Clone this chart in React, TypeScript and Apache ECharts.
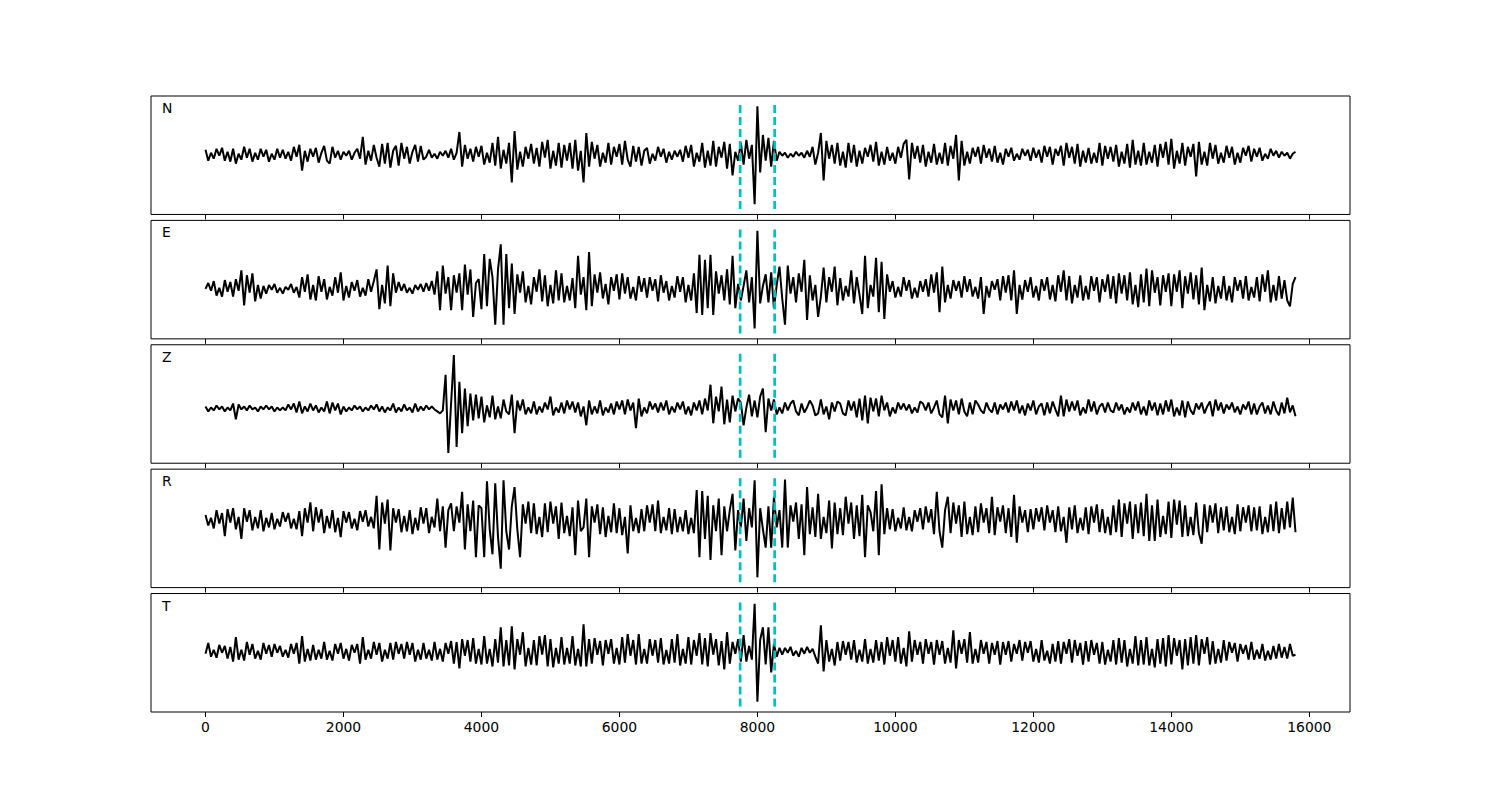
import React, { useEffect, useRef } from "react";
import * as echarts from "echarts";

// sample spacing of the traces (samples)
const STEP = 40;
const TICKS = [0, 2000, 4000, 6000, 8000, 10000, 12000, 14000, 16000];
const PICKS = [7750, 8250];
const LABELS = ["N", "E", "Z", "R", "T"];
const X_MIN = -790;
const X_MAX = 16590;

const TRACE_N = [
  5, -6, 2, -4, 6, -1, 7, -6, 3, -7,
  6, -9, 1, -5, 8, -3, 6, -7, 2, -5,
  6, -2, 5, -7, 1, -5, 6, -3, 5, -4,
  3, -6, 8, -2, 10, -16, 4, -7, 6, -2,
  7, -8, 2, 9, -6, -9, 8, -3, 4, -5,
  3, -1, 4, -5, 2, 6, -4, 18, -10, 4,
  -6, 10, -3, -12, 11, -9, 12, -13, 4, 9,
  -11, 12, -4, 8, -9, 3, 10, -7, 9, -5,
  -2, 5, -3, 1, -4, 3, -1, 4, -3, 6,
  -5, 2, 23, -12, 10, -4, 6, -7, 8, -2,
  9, -10, 2, -8, 12, -11, 18, -14, 5, -9,
  12, -28, 24, -15, 3, -12, 8, -4, 11, -9,
  7, -12, 13, -3, 15, -14, 4, -11, 12, -13,
  10, -6, 12, -14, 15, -16, 4, -28, 22, -12,
  13, -4, 10, -12, 2, -8, 12, -10, 8, -2,
  11, -10, 14, -5, -12, 9, -7, 8, -11, 4,
  7, -9, 1, -6, 8, -2, 6, -8, 3, -5,
  4, -2, 5, -7, 9, -3, 10, -12, 2, -7,
  12, -13, 4, -11, 14, -12, 8, -3, 13, -14,
  11, -21, 3, -6, 12, -10, 15, -4, 10, -50,
  49, -18, 20, -6, 17, -12, 14, -6, 3, -1,
  2, -3, 1, -2, 3, -1, 2, -3, 4, -2,
  8, -10, 2, 22, -26, 14, -4, 10, -9, 12,
  -11, 3, -13, 12, -8, 10, -12, 4, -9, 7,
  -2, 10, -7, 13, -11, 3, -10, 8, -6, 2,
  -9, 8, -3, 11, 15, -25, 12, -4, 9, -8,
  10, -12, 3, -8, 11, -10, 2, -9, 12, -11,
  9, -4, 20, -26, 14, -11, 3, -9, 7, -2,
  8, -9, 10, -3, 6, -7, 9, -8, 2, -10,
  6, -2, 7, -6, 1, -5, 6, -1, 5, -6,
  7, -3, 5, -8, 9, -2, 8, -10, 6, -1,
  9, -11, 12, -3, 8, -9, 11, -12, 4, -8,
  7, -9, 2, -8, 12, -11, 9, -4, 8, -7,
  10, -12, 3, -9, 11, -13, 15, -10, 4, -11,
  12, -10, 3, -8, 10, -12, 11, -3, 13, -10,
  16, -14, 4, -9, 12, -11, 8, -2, 11, -22,
  13, -10, 3, -11, 12, -4, 10, -9, 2, -8,
  9, -3, 8, -10, 2, -8, 7, -1, 9, -7,
  6, -2, 7, -6, 1, -4, 6, -1, 4, -3,
  3, -1, 2, -4, 1, 3,
];

const TRACE_E = [
  0, 6, -2, 8, -7, 1, -8, 9, -3, 7,
  -8, 10, -2, 19, -17, 14, -4, 16, -13, 4,
  -10, 3, -5, 4, -1, 5, -4, 1, -5, 2,
  -1, 5, -4, 2, -9, 12, -3, 15, -11, 4,
  -12, 13, -3, 10, -11, 2, -7, 12, -4, 17,
  -12, 3, -9, 7, -2, 9, -8, 1, -7, 10,
  -3, 8, 20, -21, 4, -15, 24, -18, 16, -4,
  7, -2, 5, -4, 1, -5, 4, -1, 5, -3,
  6, -2, 8, -6, 18, -22, 24, -5, 12, -22,
  14, -4, 16, -22, 25, -6, 20, -29, 6, 10,
  -21, 36, -18, 31, 12, -37, 20, 46, -37, 36,
  -20, 26, -26, 15, -4, 18, -14, 3, -16, 12,
  -3, 20, -13, 14, -18, 4, -15, 19, -12, 16,
  -14, 3, -12, 11, -20, 34, -6, 12, -22, 38,
  -18, 15, -4, 17, -10, 5, -16, 12, -2, 15,
  -11, 16, -5, 12, -10, 2, -12, 13, -3, 11,
  -9, 12, -2, 10, -13, 14, -4, 8, -12, 3,
  -9, 13, -3, 12, -14, 4, -12, 16, -25, 35,
  -27, 30, -20, 35, -27, 18, -5, 14, -12, 20,
  -16, 34, -20, 5, -12, 3, 19, -14, 12, -41,
  60, -15, 3, 15, -14, 17, -20, 4, 23, -10,
  -37, 24, -5, 12, -14, 16, -3, 30, -32, 14,
  -12, 4, -29, -8, 22, -14, 12, -3, 23, -17,
  11, -12, 3, -8, 19, -15, 12, -6, -26, 34,
  -20, 4, -8, 32, -24, 28, -31, 15, -3, 8,
  -9, 2, -8, 12, -2, 9, -10, 1, -9, 8,
  -3, 10, -8, 15, -4, 17, -24, 23, -14, 4,
  -10, 9, -2, 8, -9, 13, -3, 10, -8, 2,
  -10, 12, -26, 3, -9, 8, -1, 10, -12, 13,
  -4, 14, -12, 19, -26, 4, -11, 9, -3, 12,
  -9, 3, -12, 10, -2, 12, -11, 4, -13, 14,
  -3, 19, -12, 13, -15, 4, -9, 14, -12, 3,
  -11, 13, -2, 12, -14, 10, -3, 15, -10, 13,
  -15, 16, -5, 14, -12, 17, -16, 4, -19, 15,
  -14, 21, -18, 19, -4, 12, -17, 14, -3, 16,
  -18, 15, -3, 19, -20, 13, -5, 17, -11, 14,
  -16, 22, -22, 4, -13, 12, -15, 3, -10, 13,
  -12, 3, -14, 12, -2, 9, -10, 13, -12, 2,
  -9, 12, -13, 15, -3, 19, -14, 4, -12, 13,
  -10, 9, -12, -18, 5, 12,
];

const TRACE_Z = [
  2, -3, 1, -2, 3, -1, 2, -3, 1, -2,
  5, -11, 4, -1, 2, -2, 3, -1, 1, -3,
  2, -1, 3, -1, 2, -3, 1, -2, 1, -2,
  4, -1, 5, -4, 7, -5, 2, -3, 5, -2,
  3, -4, 1, -3, 7, -5, 6, -2, 5, -6,
  2, -3, 1, -2, 3, -1, 2, -3, 1, -2,
  3, -1, 4, -3, 2, -4, 1, -2, 5, -4,
  1, -3, 4, -2, 1, -4, 5, -3, 2, -2,
  3, -1, 2, -1, -3, -5, -2, 34, -45, 5,
  54, -39, 27, -25, 20, -18, 15, -12, 14, -10,
  12, -14, 3, -9, 13, -11, 2, -10, 9, -3,
  -6, 14, -25, 8, -2, 9, -6, 1, -5, 7,
  -6, 2, -4, 6, -1, 12, -7, 1, -4, 6,
  -5, 8, -1, 7, -4, 6, -8, 2, -17, 8,
  -6, 2, -5, 8, -7, 1, -4, 5, -6, 7,
  -1, 8, -6, 9, -2, 6, -20, 10, -8, 1,
  -5, 7, -1, 5, -4, 6, -2, 8, -6, 2,
  -4, 6, -1, 7, -6, 2, -7, 6, -2, 8,
  -6, 10, -2, 24, -15, 12, -3, 22, -16, 9,
  -14, 13, -3, 10, 6, -17, 1, 14, -8, 8,
  -9, 12, 20, -24, 10, -2, 9, -6, 1, -5,
  6, -2, 5, 8, -3, -7, 5, -4, 1, 8,
  3, -7, -5, 9, -6, 2, -11, 6, -3, 7,
  5, -5, -7, 8, -2, 7, -9, 10, -12, 13,
  -15, 11, -3, 10, -8, 13, -2, 6, -8, 1,
  -5, 6, -1, 5, -2, 4, -5, 1, -4, 7,
  5, -2, 6, -5, 1, 8, -6, -9, 13, -15,
  9, -2, 8, -6, 10, -3, -8, 6, -6, 8,
  4, -2, -5, 6, -1, -4, 6, -6, 4, -1,
  6, -4, 7, -2, 8, -5, 3, -7, 5, -2,
  8, -6, 2, 5, -7, 6, -5, 7, -1, -8,
  13, -8, 9, -3, 7, -2, 8, -7, 1, -5,
  9, -3, 7, -6, 2, 5, -4, 6, -2, -4,
  6, -2, 4, -6, 1, -4, 6, -2, 7, -6,
  2, -7, 8, -2, 6, -7, 5, -6, 8, -3,
  9, -8, 1, -7, 8, -9, 7, -2, -6, 5,
  -1, 6, -5, 2, 7, -8, 9, -2, 6, -5,
  4, -1, 6, -4, 2, -6, 4, -1, 7, -6,
  5, -6, 2, 6, -5, 3, -6, 7, -2, -7,
  6, -5, 11, -4, 3, -8,
];

const TRACE_R = [
  5, -6, 2, -9, 10, -4, 7, -17, 11, -3,
  12, -10, 3, -20, 12, -2, 10, -11, 3, -9,
  10, -12, 2, -8, 7, -10, 1, -7, 8, -2,
  7, -9, 1, -10, 9, -17, 12, -3, 18, -12,
  13, -3, 11, -14, 4, -9, 10, -13, 2, -18,
  9, -3, 8, -9, 1, -11, 9, -2, 10, -7,
  3, -9, 25, -31, 18, -4, 21, -32, 12, -3,
  11, -13, 4, -12, 10, -15, 2, -11, 13, -4,
  12, -14, 3, -8, 22, -12, 14, -29, 10, 17,
  -12, 14, -3, 29, -31, 16, -12, 20, -39, 15,
  12, -39, 40, -10, -36, 38, -18, -51, 41, -12,
  -31, 14, 34, -10, -39, 16, -4, 19, -14, 17,
  -15, 3, -18, 17, -13, 19, -4, 14, -20, 18,
  -14, 4, -17, 13, -37, 20, -12, -8, 22, -39,
  14, -3, 16, -15, 13, -18, 4, -13, 17, -14,
  12, -16, 3, -35, 15, -12, 2, -14, 11, -12,
  15, -3, 16, -12, 20, -14, 3, -11, 12, -15,
  11, -13, 3, -12, 10, -15, 2, -14, 31, -39,
  30, -20, 25, -42, 15, -12, 22, -37, 14, -12,
  10, 27, -32, 10, -8, 22, -22, 12, -8, 41,
  -60, 12, -10, -29, 14, -29, 24, -8, 10, -29,
  42, -29, 15, -2, 18, -20, 16, -37, 34, -15,
  13, -18, 27, -20, 3, -14, 20, -30, 18, -15,
  12, -16, 24, -4, 18, -20, 15, -17, 26, -39,
  15, 8, -12, 30, -37, 37, -15, 12, -10, 11,
  -12, 2, -9, 13, -11, 3, -12, 10, -2, 12,
  -10, 14, -3, 11, -15, 29, -12, -29, 10, 24,
  -14, 18, -4, 15, -18, 19, -15, 3, -16, 14,
  -13, 17, -3, 12, -14, 24, -16, 13, -2, 15,
  -14, 12, -18, 26, -24, 14, -3, 10, -13, 11,
  -10, 12, -2, 13, -11, 15, -3, 10, -13, 14,
  -12, 3, -24, 13, -10, 15, -14, 2, -11, 13,
  -15, 14, -3, 16, -13, 11, -14, 3, -16, 15,
  -13, 21, -18, 17, -4, 19, -20, 16, -14, 18,
  -17, 27, -22, 15, -22, 21, -18, 4, -15, 19,
  -19, 21, -5, 20, -18, 15, -17, 3, -16, 18,
  -14, -25, 16, -13, 15, -3, 17, -14, 13, -11,
  14, -13, 3, -15, 16, -12, 13, -3, 15, -12,
  13, -11, 14, -15, 3, -13, 16, -12, 19, -14,
  12, -10, 19, -8, 23, -13,
];

const TRACE_T = [
  -2, 9, -5, 2, -6, 7, -1, 6, -7, 5,
  -10, 15, -8, 2, -9, 10, -3, 8, -7, 1,
  -8, 9, -2, 7, -5, 8, -1, 6, -5, 2,
  -6, 8, -2, 9, -12, 16, -10, 3, -9, 7,
  -8, 2, -7, 10, -8, 1, -9, 8, -2, 9,
  -7, 3, -9, 7, -1, 8, -12, 15, -8, 2,
  -7, 10, -3, 9, -10, 2, -7, 9, -8, 10,
  -2, 8, -7, 10, -3, 9, -10, 2, -8, 9,
  -7, 2, -9, 10, -8, 3, -10, 9, -2, 11,
  -12, 10, -17, 13, -4, 12, -10, 14, -12, 3,
  -13, 16, -12, 3, -15, 13, -11, 25, -15, 12,
  -14, 26, -18, 13, -3, 20, -15, 4, -13, 12,
  -14, 16, -3, 17, -15, 13, -16, 4, -12, 15,
  -13, 4, -12, 16, -14, 3, -15, 28, -15, 13,
  -12, 14, -3, 11, -14, 12, -2, 13, -12, 4,
  -13, 15, -11, 18, -4, 12, -13, 18, -12, 3,
  -12, 13, -4, 12, -11, 14, -13, 2, -12, 13,
  -11, 18, -14, 3, -12, 15, -13, 12, -4, 19,
  -13, 14, -15, 19, -3, 13, -14, 11, -18, 20,
  -12, 10, -2, 13, -10, 17, -10, 6, -8, 49,
  -51, 12, 25, -13, 25, -21, 8, -5, 4, -3,
  4, -1, 5, -4, 1, -5, 4, -2, 5, -1,
  3, -5, -12, 27, -20, 12, -10, 3, -14, 10,
  -9, 11, -3, 10, -8, 12, -11, 2, -10, 13,
  -12, 3, -11, 12, -9, 10, -13, 15, -4, 12,
  -10, 15, -12, 4, -15, 21, -10, 12, -3, 10,
  -12, 13, -2, 10, -13, 12, -3, 11, -12, 4,
  -11, 22, -17, 12, -2, 13, -11, 20, -12, 3,
  -11, 12, -2, 10, -12, 9, -3, 11, -13, 10,
  -3, 11, -10, 8, -2, 12, -9, 10, -1, 11,
  -10, 3, -11, 12, -9, 1, -12, 8, -10, 11,
  -12, 10, -2, 13, -11, 12, -4, 9, -13, 11,
  -10, 12, -3, 9, -12, 10, -13, 2, -10, 12,
  -13, 14, -11, 12, -15, 3, -12, 16, -14, 12,
  -13, 15, -14, 3, -16, 13, -12, 14, -15, 17,
  -13, 14, -4, 12, -18, 13, -14, 15, -12, 17,
  -14, 13, -2, 15, -13, 11, -12, 3, -11, 12,
  -9, 10, -1, 9, -10, 8, -2, 7, -8, 10,
  -8, 2, -7, 8, -9, 1, -8, 6, -7, 8,
  -6, 5, -7, 8, -4, -3,
];

const TRACES = [TRACE_N, TRACE_E, TRACE_Z, TRACE_R, TRACE_T];

const FONT = "DejaVu Sans";
const GRID_LEFT = 151;
const GRID_WIDTH = 1199;
const GRID_TOP0 = 96;
const GRID_PITCH = 124.385;
const GRID_HEIGHT = 118.46;

export default function App() {
  const ref = useRef<HTMLDivElement>(null);

  useEffect(() => {
    if (!ref.current) return;
    const chart = echarts.init(ref.current, null, { renderer: "svg" });

    const grids: any[] = [];
    const xAxes: any[] = [];
    const yAxes: any[] = [];
    const series: any[] = [];
    const graphics: any[] = [];

    TRACES.forEach((arr, i) => {
      const top = GRID_TOP0 + i * GRID_PITCH;
      const mn = Math.min(...arr);
      const mx = Math.max(...arr);
      const r = mx - mn;
      const lo = mn - 0.05 * r;
      const hi = mx + 0.05 * r;
      const pad = 0.05 * (hi - lo);

      grids.push({
        left: GRID_LEFT,
        top,
        width: GRID_WIDTH,
        height: GRID_HEIGHT,
        show: true,
        borderColor: "#000",
        borderWidth: 1,
        backgroundColor: "transparent",
      });

      xAxes.push({
        gridIndex: i,
        type: "value",
        position: "bottom",
        min: X_MIN,
        max: X_MAX,
        axisLine: { show: false, onZero: false },
        axisTick: {
          show: true,
          inside: false,
          length: 5,
          lineStyle: { color: "#000", width: 1 },
          customValues: TICKS,
        },
        axisLabel: {
          show: i === TRACES.length - 1,
          customValues: TICKS,
          margin: 8,
          fontSize: 13.9,
          fontFamily: FONT,
          color: "#000",
          formatter: (v: number) => String(v),
        },
        splitLine: { show: false },
      });

      yAxes.push({
        gridIndex: i,
        type: "value",
        min: lo - pad,
        max: hi + pad,
        show: false,
        splitLine: { show: false },
      });

      series.push({
        type: "line",
        xAxisIndex: i,
        yAxisIndex: i,
        data: arr.map((v, k) => [k * STEP, v]),
        symbol: "none",
        showSymbol: false,
        silent: true,
        lineStyle: { color: "#000", width: 2 },
        z: 2,
      });

      PICKS.forEach((p) => {
        series.push({
          type: "line",
          xAxisIndex: i,
          yAxisIndex: i,
          data: [
            [p, lo],
            [p, hi],
          ],
          symbol: "none",
          showSymbol: false,
          silent: true,
          lineStyle: { color: "#00bfbf", width: 2.7, type: [8, 4] },
          z: 3,
        });
      });

      graphics.push({
        type: "text",
        left: 162,
        top: top + 5,
        style: {
          text: LABELS[i],
          fontSize: 13.9,
          fontFamily: FONT,
          fill: "#000",
        },
      });
    });

    chart.setOption({
      animation: false,
      backgroundColor: "#fff",
      textStyle: { fontFamily: FONT },
      grid: grids,
      xAxis: xAxes,
      yAxis: yAxes,
      series,
      graphic: graphics,
    });

    return () => chart.dispose();
  }, []);

  return (
    <div
      ref={ref}
      style={{
        position: "fixed",
        left: 0,
        top: 0,
        width: 1500,
        height: 800,
        background: "#fff",
      }}
    />
  );
}
